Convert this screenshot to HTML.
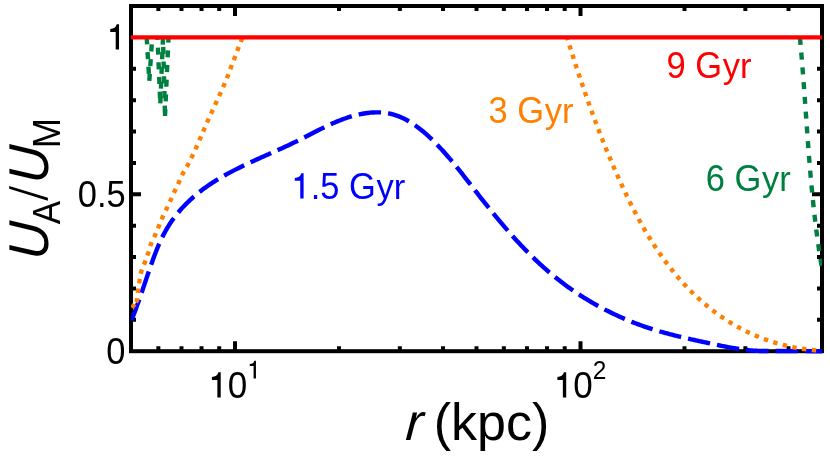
<!DOCTYPE html>
<html><head><meta charset="utf-8">
<style>
html,body{margin:0;padding:0;background:#fff;}
svg{display:block;will-change:transform;}
text{font-family:"Liberation Sans",sans-serif;}
</style></head>
<body>
<svg width="830" height="458" viewBox="0 0 830 458">
<rect width="830" height="458" fill="#fff"/>
<g stroke="#000" stroke-width="4" fill="none" stroke-linecap="butt">
<path d="M158.36,351.2 v-5 M158.36,6.0 v5"/>
<path d="M181.49,351.2 v-5 M181.49,6.0 v5"/>
<path d="M201.52,351.2 v-5 M201.52,6.0 v5"/>
<path d="M219.20,351.2 v-5 M219.20,6.0 v5"/>
<path d="M339.01,351.2 v-5 M339.01,6.0 v5"/>
<path d="M399.85,351.2 v-5 M399.85,6.0 v5"/>
<path d="M443.02,351.2 v-5 M443.02,6.0 v5"/>
<path d="M476.50,351.2 v-5 M476.50,6.0 v5"/>
<path d="M503.86,351.2 v-5 M503.86,6.0 v5"/>
<path d="M526.99,351.2 v-5 M526.99,6.0 v5"/>
<path d="M547.02,351.2 v-5 M547.02,6.0 v5"/>
<path d="M564.70,351.2 v-5 M564.70,6.0 v5"/>
<path d="M684.51,351.2 v-5 M684.51,6.0 v5"/>
<path d="M745.35,351.2 v-5 M745.35,6.0 v5"/>
<path d="M788.52,351.2 v-5 M788.52,6.0 v5"/>
<path d="M235.01,351.2 v-10 M235.01,6.0 v10"/>
<path d="M580.51,351.2 v-10 M580.51,6.0 v10"/>
<path d="M131.0,319.82 h5 M822.0,319.82 h-5"/>
<path d="M131.0,288.44 h5 M822.0,288.44 h-5"/>
<path d="M131.0,257.05 h5 M822.0,257.05 h-5"/>
<path d="M131.0,225.67 h5 M822.0,225.67 h-5"/>
<path d="M131.0,194.29 h10 M822.0,194.29 h-10"/>
<path d="M131.0,162.91 h5 M822.0,162.91 h-5"/>
<path d="M131.0,131.53 h5 M822.0,131.53 h-5"/>
<path d="M131.0,100.15 h5 M822.0,100.15 h-5"/>
<path d="M131.0,68.76 h5 M822.0,68.76 h-5"/>
</g>
<rect x="131.0" y="6.0" width="691.0" height="345.2" fill="none" stroke="#000" stroke-width="4" stroke-linejoin="miter"/>
<defs><clipPath id="ax"><rect x="131.0" y="0" width="691.0" height="458"/></clipPath></defs>
<g clip-path="url(#ax)" fill="none" stroke-width="4.4" stroke-linejoin="round">
<path id="blue" stroke="#0000ff" stroke-dasharray="22.5 7.1" d="M131.35,320.51 L131.96,319.00 L132.57,317.48 L133.16,315.97 L133.76,314.45 L134.34,312.93 L134.92,311.41 L135.49,309.89 L136.06,308.36 L136.62,306.84 L137.18,305.31 L137.73,303.78 L138.28,302.25 L138.82,300.71 L139.37,299.18 L139.90,297.65 L140.44,296.11 L140.97,294.57 L141.50,293.03 L142.03,291.49 L142.55,289.96 L143.07,288.41 L143.60,286.87 L144.12,285.33 L144.64,283.79 L145.16,282.25 L145.68,280.70 L146.20,279.16 L146.73,277.61 L147.25,276.07 L147.77,274.53 L148.30,272.98 L148.83,271.44 L149.36,269.89 L149.89,268.35 L150.43,266.81 L150.96,265.26 L151.51,263.72 L152.05,262.18 L152.61,260.64 L153.16,259.10 L153.73,257.56 L154.30,256.03 L154.87,254.50 L155.46,252.97 L156.05,251.45 L156.66,249.93 L157.27,248.42 L157.90,246.91 L158.53,245.40 L159.18,243.90 L159.84,242.41 L160.52,240.93 L161.20,239.45 L161.91,237.98 L162.63,236.52 L163.36,235.07 L164.11,233.63 L164.88,232.19 L165.67,230.77 L166.47,229.35 L167.29,227.95 L168.14,226.56 L169.00,225.18 L169.89,223.81 L170.79,222.45 L171.71,221.11 L172.65,219.77 L173.61,218.45 L174.59,217.14 L175.58,215.85 L176.60,214.56 L177.62,213.29 L178.67,212.03 L179.73,210.79 L180.80,209.56 L181.89,208.34 L183.00,207.13 L184.12,205.94 L185.25,204.76 L186.40,203.60 L187.56,202.45 L188.73,201.32 L189.91,200.20 L191.10,199.09 L192.31,198.00 L193.53,196.92 L194.76,195.86 L195.99,194.81 L197.24,193.78 L198.50,192.76 L199.77,191.76 L201.04,190.77 L202.33,189.79 L203.62,188.83 L204.93,187.87 L206.24,186.94 L207.56,186.01 L208.89,185.10 L210.23,184.19 L211.57,183.30 L212.92,182.42 L214.28,181.55 L215.65,180.70 L217.02,179.85 L218.41,179.01 L219.79,178.18 L221.19,177.36 L222.59,176.55 L224.00,175.75 L225.41,174.96 L226.83,174.17 L228.25,173.40 L229.68,172.63 L231.11,171.87 L232.55,171.11 L234.00,170.37 L235.45,169.63 L236.90,168.89 L238.36,168.17 L239.82,167.44 L241.28,166.73 L242.75,166.01 L244.22,165.31 L245.70,164.61 L247.18,163.91 L248.66,163.21 L250.14,162.52 L251.63,161.84 L253.12,161.15 L254.61,160.47 L256.10,159.79 L257.60,159.12 L259.09,158.44 L260.59,157.77 L262.09,157.10 L263.59,156.43 L265.09,155.76 L266.59,155.10 L268.09,154.43 L269.59,153.76 L271.09,153.09 L272.59,152.42 L274.09,151.75 L275.59,151.08 L277.09,150.41 L278.59,149.74 L280.09,149.06 L281.58,148.39 L283.07,147.71 L284.57,147.02 L286.06,146.34 L287.54,145.65 L289.03,144.95 L290.51,144.26 L291.99,143.55 L293.47,142.85 L294.94,142.14 L296.42,141.42 L297.88,140.70 L299.35,139.97 L300.81,139.24 L302.26,138.50 L303.72,137.76 L305.17,137.02 L306.62,136.28 L308.07,135.53 L309.52,134.78 L310.97,134.03 L312.41,133.29 L313.86,132.54 L315.31,131.80 L316.76,131.06 L318.20,130.32 L319.66,129.59 L321.11,128.86 L322.56,128.14 L324.02,127.42 L325.48,126.72 L326.95,126.02 L328.41,125.32 L329.89,124.64 L331.36,123.97 L332.84,123.31 L334.33,122.66 L335.82,122.02 L337.32,121.40 L338.83,120.79 L340.34,120.19 L341.86,119.61 L343.39,119.04 L344.92,118.49 L346.47,117.96 L348.02,117.45 L349.58,116.95 L351.15,116.48 L352.73,116.02 L354.33,115.59 L355.93,115.18 L357.53,114.79 L359.15,114.42 L360.77,114.09 L362.40,113.77 L364.03,113.49 L365.66,113.23 L367.30,113.01 L368.93,112.81 L370.57,112.65 L372.20,112.52 L373.84,112.43 L375.46,112.37 L377.09,112.35 L378.71,112.36 L380.32,112.42 L381.93,112.51 L383.52,112.65 L385.11,112.83 L386.68,113.05 L388.25,113.32 L389.80,113.63 L391.34,113.99 L392.87,114.39 L394.38,114.83 L395.89,115.31 L397.38,115.83 L398.85,116.39 L400.32,116.99 L401.78,117.62 L403.22,118.29 L404.65,119.00 L406.07,119.73 L407.48,120.50 L408.87,121.30 L410.26,122.13 L411.63,122.98 L412.99,123.86 L414.34,124.77 L415.68,125.71 L417.01,126.67 L418.32,127.65 L419.63,128.65 L420.92,129.67 L422.21,130.72 L423.48,131.78 L424.74,132.85 L425.99,133.95 L427.23,135.06 L428.46,136.18 L429.68,137.31 L430.89,138.46 L432.09,139.62 L433.27,140.78 L434.45,141.96 L435.62,143.14 L436.78,144.33 L437.92,145.52 L439.06,146.71 L440.19,147.92 L441.30,149.12 L442.41,150.33 L443.51,151.55 L444.61,152.77 L445.69,153.99 L446.77,155.22 L447.84,156.45 L448.90,157.68 L449.96,158.92 L451.01,160.16 L452.05,161.40 L453.09,162.65 L454.13,163.90 L455.15,165.15 L456.18,166.41 L457.20,167.67 L458.21,168.93 L459.22,170.19 L460.23,171.46 L461.24,172.73 L462.24,173.99 L463.24,175.27 L464.24,176.54 L465.24,177.81 L466.23,179.09 L467.23,180.36 L468.22,181.64 L469.21,182.92 L470.21,184.20 L471.20,185.48 L472.19,186.76 L473.19,188.04 L474.18,189.33 L475.18,190.61 L476.18,191.89 L477.18,193.17 L478.18,194.45 L479.18,195.74 L480.19,197.02 L481.20,198.30 L482.20,199.58 L483.22,200.86 L484.23,202.14 L485.24,203.42 L486.26,204.70 L487.28,205.97 L488.30,207.25 L489.32,208.52 L490.35,209.80 L491.38,211.07 L492.41,212.34 L493.44,213.61 L494.48,214.87 L495.52,216.14 L496.56,217.40 L497.60,218.66 L498.65,219.92 L499.70,221.18 L500.75,222.43 L501.81,223.68 L502.87,224.93 L503.93,226.18 L505.00,227.42 L506.07,228.66 L507.14,229.90 L508.21,231.13 L509.29,232.36 L510.37,233.59 L511.46,234.82 L512.55,236.04 L513.64,237.26 L514.74,238.47 L515.84,239.68 L516.95,240.89 L518.05,242.09 L519.17,243.28 L520.28,244.48 L521.40,245.67 L522.53,246.85 L523.66,248.03 L524.79,249.21 L525.93,250.38 L527.07,251.55 L528.22,252.71 L529.37,253.86 L530.53,255.01 L531.69,256.16 L532.85,257.30 L534.02,258.43 L535.20,259.56 L536.38,260.69 L537.56,261.80 L538.75,262.91 L539.95,264.02 L541.15,265.12 L542.35,266.21 L543.56,267.30 L544.78,268.38 L546.00,269.46 L547.23,270.52 L548.46,271.58 L549.70,272.64 L550.94,273.68 L552.19,274.72 L553.45,275.76 L554.71,276.78 L555.97,277.80 L557.24,278.81 L558.52,279.82 L559.80,280.82 L561.09,281.81 L562.39,282.79 L563.68,283.76 L564.99,284.73 L566.30,285.69 L567.61,286.65 L568.93,287.60 L570.26,288.53 L571.59,289.47 L572.92,290.39 L574.26,291.31 L575.61,292.22 L576.96,293.12 L578.31,294.02 L579.67,294.90 L581.04,295.79 L582.41,296.66 L583.78,297.52 L585.16,298.38 L586.55,299.23 L587.93,300.07 L589.33,300.91 L590.73,301.74 L592.13,302.56 L593.54,303.37 L594.95,304.17 L596.36,304.97 L597.78,305.76 L599.21,306.54 L600.64,307.32 L602.07,308.08 L603.51,308.84 L604.95,309.59 L606.40,310.34 L607.85,311.07 L609.30,311.80 L610.76,312.52 L612.22,313.23 L613.69,313.93 L615.16,314.63 L616.63,315.32 L618.11,316.00 L619.59,316.67 L621.08,317.33 L622.57,317.99 L624.06,318.64 L625.55,319.28 L627.06,319.91 L628.56,320.53 L630.07,321.15 L631.58,321.76 L633.09,322.36 L634.61,322.95 L636.13,323.53 L637.66,324.11 L639.18,324.67 L640.72,325.23 L642.25,325.78 L643.79,326.33 L645.33,326.86 L646.87,327.39 L648.42,327.90 L649.97,328.41 L651.52,328.91 L653.08,329.40 L654.64,329.89 L656.20,330.36 L657.77,330.83 L659.33,331.29 L660.90,331.75 L662.48,332.19 L664.05,332.63 L665.63,333.07 L667.21,333.49 L668.79,333.92 L670.37,334.33 L671.95,334.74 L673.54,335.14 L675.13,335.54 L676.71,335.94 L678.30,336.32 L679.90,336.71 L681.49,337.09 L683.08,337.46 L684.67,337.84 L686.27,338.21 L687.86,338.57 L689.46,338.93 L691.06,339.29 L692.65,339.65 L694.25,340.00 L695.85,340.35 L697.44,340.70 L699.04,341.05 L700.64,341.40 L702.23,341.74 L703.83,342.09 L705.42,342.43 L707.02,342.77 L708.61,343.12 L710.21,343.46 L711.80,343.80 L713.39,344.14 L714.98,344.48 L716.57,344.82 L718.16,345.16 L719.75,345.49 L721.34,345.82 L722.93,346.14 L724.52,346.46 L726.11,346.77 L727.71,347.08 L729.30,347.38 L730.89,347.67 L732.49,347.96 L734.09,348.23 L735.69,348.50 L737.29,348.75 L738.89,349.00 L740.49,349.23 L742.10,349.46 L743.71,349.67 L745.32,349.86 L746.94,350.04 L748.56,350.21 L750.18,350.36 L751.80,350.50 L753.43,350.62 L755.06,350.72 L756.70,350.81 L758.34,350.88 L759.98,350.93 L822,351.2"/>
<path stroke="#ff8000" d="M132,307.9 L134.44,304.24"/>
<path id="orangeL" stroke="#ff8000" stroke-dasharray="4.4 5.32" d="M135.78,302.23 L136.71,301.05 L137.13,299.78 L137.34,298.42 L137.49,297.00 L137.61,295.54 L137.71,294.06 L137.81,292.58 L137.95,291.12 L138.13,289.69 L138.32,288.26 L138.53,286.83 L138.75,285.41 L138.97,283.98 L139.20,282.56 L139.44,281.14 L139.68,279.72 L139.92,278.29 L140.16,276.86 L140.42,275.44 L140.70,274.02 L141.00,272.62 L141.34,271.24 L141.76,269.87 L142.25,268.52 L142.80,267.19 L143.37,265.86 L143.95,264.52 L144.51,263.19 L145.03,261.84 L145.54,260.49 L146.04,259.14 L146.53,257.79 L147.02,256.43 L147.50,255.07 L147.96,253.71 L148.41,252.34 L148.82,250.95 L149.22,249.56 L149.62,248.18 L150.03,246.79 L150.47,245.42 L150.95,244.07 L151.49,242.74 L152.08,241.43 L152.71,240.14 L153.36,238.84 L154.00,237.55 L154.63,236.25 L155.22,234.93 L155.78,233.61 L156.33,232.27 L156.87,230.94 L157.41,229.60 L157.94,228.26 L158.49,226.92 L159.03,225.59 L159.57,224.25 L160.11,222.92 L160.65,221.58 L161.20,220.25 L161.77,218.92 L162.34,217.60 L162.94,216.29 L163.56,214.99 L164.20,213.70 L164.84,212.41 L165.48,211.11 L166.11,209.82 L166.73,208.52 L167.35,207.22 L167.96,205.91 L168.57,204.61 L169.18,203.30 L169.78,201.99 L170.39,200.68 L170.99,199.37 L171.58,198.06 L172.16,196.74 L172.75,195.42 L173.34,194.11 L173.93,192.79 L174.52,191.48 L175.13,190.18 L175.75,188.87 L176.38,187.57 L177.00,186.28 L177.63,184.98 L178.25,183.68 L178.87,182.38 L179.46,181.06 L180.04,179.74 L180.62,178.42 L181.19,177.09 L181.78,175.77 L182.38,174.47 L183.01,173.18 L183.68,171.91 L184.40,170.66 L185.15,169.42 L185.91,168.19 L186.66,166.96 L187.39,165.72 L188.08,164.45 L188.74,163.18 L189.39,161.90 L190.04,160.62 L190.68,159.33 L191.32,158.04 L191.94,156.75 L192.56,155.45 L193.18,154.15 L193.78,152.84 L194.39,151.54 L194.99,150.23 L195.58,148.91 L196.17,147.60 L196.76,146.28 L197.34,144.96 L197.92,143.64 L198.50,142.32 L199.07,140.99 L199.64,139.67 L200.22,138.34 L200.79,137.01 L201.36,135.69 L201.93,134.36 L202.50,133.03 L203.07,131.71 L203.64,130.38 L204.21,129.05 L204.78,127.73 L205.36,126.40 L205.93,125.08 L206.51,123.76 L207.10,122.44 L207.68,121.12 L208.27,119.81 L208.86,118.49 L209.46,117.18 L210.06,115.87 L210.65,114.56 L211.25,113.25 L211.85,111.94 L212.45,110.63 L213.05,109.32 L213.65,108.01 L214.26,106.70 L214.86,105.39 L215.46,104.07 L216.06,102.76 L216.66,101.45 L217.25,100.14 L217.85,98.83 L218.45,97.52 L219.04,96.20 L219.63,94.89 L220.22,93.58 L220.81,92.26 L221.40,90.94 L221.98,89.63 L222.56,88.31 L223.14,86.99 L223.71,85.67 L224.28,84.34 L224.85,83.02 L225.41,81.69 L225.98,80.36 L226.53,79.03 L227.08,77.70 L227.62,76.37 L228.15,75.03 L228.67,73.68 L229.17,72.33 L229.66,70.97 L230.14,69.62 L230.63,68.26 L231.12,66.90 L231.62,65.55 L232.13,64.20 L232.65,62.86 L233.17,61.52 L233.69,60.17 L234.22,58.83 L234.74,57.49 L235.26,56.14 L235.78,54.80 L236.29,53.45 L236.80,52.10 L237.31,50.76 L237.83,49.41 L238.35,48.07 L238.87,46.72 L239.39,45.38 L239.92,44.04 L240.45,42.70 L240.99,41.36 L241.52,40.02 L242.06,38.69 L242.60,37.35"/>
<path id="orangeR" stroke="#ff8000" stroke-dasharray="4.4 5.455" stroke-dashoffset="1.5" d="M566.97,37.31 L567.40,38.69 L567.83,40.08 L568.26,41.47 L568.69,42.86 L569.13,44.25 L569.56,45.63 L570.00,47.02 L570.43,48.40 L570.87,49.78 L571.31,51.17 L571.75,52.55 L572.18,53.93 L572.62,55.31 L573.07,56.69 L573.51,58.07 L573.95,59.44 L574.39,60.82 L574.84,62.20 L575.28,63.57 L575.73,64.95 L576.18,66.32 L576.63,67.70 L577.08,69.07 L577.53,70.44 L577.98,71.81 L578.43,73.18 L578.89,74.55 L579.34,75.92 L579.80,77.29 L580.26,78.65 L580.72,80.02 L581.18,81.39 L581.64,82.75 L582.10,84.12 L582.56,85.48 L583.03,86.84 L583.50,88.21 L583.96,89.57 L584.43,90.93 L584.90,92.29 L585.37,93.65 L585.85,95.01 L586.32,96.36 L586.80,97.72 L587.28,99.08 L587.75,100.43 L588.23,101.79 L588.72,103.14 L589.20,104.50 L589.68,105.85 L590.17,107.21 L590.66,108.56 L591.15,109.91 L591.64,111.26 L592.13,112.61 L592.62,113.96 L593.12,115.31 L593.62,116.66 L594.12,118.00 L594.62,119.35 L595.12,120.70 L595.62,122.04 L596.13,123.39 L596.64,124.73 L597.15,126.07 L597.66,127.42 L598.17,128.76 L598.69,130.10 L599.20,131.44 L599.72,132.78 L600.24,134.12 L600.76,135.46 L601.29,136.80 L601.81,138.14 L602.34,139.48 L602.87,140.81 L603.40,142.15 L603.94,143.49 L604.47,144.82 L605.01,146.16 L605.55,147.49 L606.09,148.82 L606.63,150.16 L607.18,151.49 L607.73,152.82 L608.28,154.15 L608.83,155.48 L609.39,156.81 L609.94,158.14 L610.50,159.47 L611.06,160.80 L611.63,162.13 L612.19,163.46 L612.76,164.78 L613.33,166.11 L613.90,167.44 L614.48,168.76 L615.05,170.09 L615.63,171.41 L616.21,172.73 L616.80,174.06 L617.38,175.38 L617.97,176.70 L618.56,178.02 L619.16,179.34 L619.75,180.66 L620.35,181.98 L620.95,183.30 L621.56,184.62 L622.17,185.94 L622.77,187.26 L623.39,188.57 L624.00,189.88 L624.62,191.20 L625.24,192.51 L625.87,193.82 L626.49,195.13 L627.12,196.44 L627.76,197.74 L628.39,199.05 L629.03,200.35 L629.67,201.66 L630.32,202.96 L630.97,204.26 L631.62,205.55 L632.28,206.85 L632.94,208.14 L633.60,209.43 L634.27,210.72 L634.94,212.01 L635.61,213.30 L636.29,214.58 L636.97,215.86 L637.66,217.14 L638.35,218.42 L639.04,219.69 L639.73,220.96 L640.44,222.23 L641.14,223.50 L641.85,224.76 L642.56,226.03 L643.28,227.28 L644.00,228.54 L644.73,229.79 L645.46,231.04 L646.19,232.29 L646.93,233.54 L647.67,234.78 L648.42,236.02 L649.17,237.25 L649.93,238.48 L650.69,239.71 L651.45,240.94 L652.22,242.16 L653.00,243.38 L653.78,244.60 L654.56,245.81 L655.35,247.01 L656.15,248.22 L656.94,249.42 L657.75,250.62 L658.56,251.81 L659.37,253.00 L660.19,254.18 L661.02,255.37 L661.85,256.54 L662.68,257.72 L663.52,258.88 L664.37,260.05 L665.22,261.21 L666.08,262.36 L666.94,263.52 L667.81,264.66 L668.68,265.81 L669.56,266.94 L670.44,268.08 L671.33,269.21 L672.23,270.33 L673.13,271.45 L674.04,272.56 L674.95,273.67 L675.87,274.78 L676.80,275.88 L677.73,276.97 L678.66,278.06 L679.61,279.14 L680.56,280.22 L681.51,281.29 L682.48,282.36 L683.44,283.43 L684.42,284.48 L685.40,285.53 L686.39,286.58 L687.38,287.62 L688.38,288.65 L689.39,289.68 L690.40,290.70 L691.42,291.72 L692.45,292.73 L693.48,293.74 L694.52,294.73 L695.56,295.73 L696.61,296.71 L697.67,297.69 L698.73,298.66 L699.80,299.63 L700.88,300.59 L701.96,301.54 L703.05,302.48 L704.14,303.42 L705.24,304.35 L706.34,305.28 L707.45,306.20 L708.57,307.10 L709.69,308.01 L710.82,308.90 L711.96,309.79 L713.10,310.67 L714.24,311.54 L715.40,312.40 L716.55,313.26 L717.72,314.11 L718.89,314.95 L720.06,315.78 L721.24,316.61 L722.43,317.42 L723.62,318.23 L724.82,319.03 L726.02,319.82 L727.23,320.60 L728.44,321.37 L729.66,322.14 L730.88,322.89 L732.11,323.64 L733.35,324.38 L734.59,325.11 L735.84,325.82 L737.09,326.54 L738.34,327.24 L739.61,327.93 L740.87,328.61 L742.15,329.28 L743.42,329.94 L744.71,330.60 L745.99,331.24 L747.29,331.87 L748.59,332.50 L749.89,333.11 L751.20,333.71 L752.51,334.31 L753.83,334.89 L755.15,335.46 L756.48,336.03 L757.81,336.58 L759.14,337.12 L760.49,337.66 L761.83,338.18 L763.18,338.69 L764.53,339.19 L765.89,339.68 L767.25,340.16 L768.62,340.64 L769.99,341.10 L771.36,341.55 L772.73,341.99 L774.12,342.42 L775.50,342.83 L776.89,343.24 L778.28,343.64 L779.67,344.03 L781.07,344.41 L782.47,344.77 L783.87,345.13 L785.28,345.47 L786.69,345.81 L788.10,346.13 L789.51,346.45 L790.93,346.75 L792.35,347.04 L793.77,347.32 L795.20,347.59 L796.63,347.85 L798.06,348.10 L799.49,348.34 L800.92,348.57 L802.36,348.79 L803.80,348.99 L805.24,349.19 L806.68,349.37 L808.12,349.54 L809.57,349.71 L811.02,349.86 L812.46,350.00 L813.91,350.13 L815.37,350.24 L816.82,350.35 L818.27,350.45 L819.73,350.53 L821.18,350.60"/>
<path stroke="#008040" stroke-dasharray="7.1 7.6" stroke-dashoffset="0.00" d="M146.7,37.35 L149.3,81.0"/>
<path stroke="#008040" stroke-dasharray="7.1 7.6" stroke-dashoffset="7.60" d="M152.2,37.35 L149.3,81.0"/>
<path stroke="#008040" stroke-dasharray="7.1 7.6" stroke-dashoffset="4.50" d="M157.5,37.35 L160.3,104.0"/>
<path stroke="#008040" stroke-dasharray="7.1 7.6" stroke-dashoffset="14.60" d="M163.0,37.35 L160.3,104.0"/>
<path stroke="#008040" stroke-dasharray="7.1 7.6" stroke-dashoffset="5.20" d="M163.0,37.35 L165.0,116.0"/>
<path stroke="#008040" stroke-dasharray="7.1 7.6" stroke-dashoffset="1.75" d="M168.5,37.35 L165.0,116.0"/>
<path id="green3" stroke="#008040" stroke-dasharray="7.1 7.7" stroke-dashoffset="-0.6" d="M799.88,37.22 L800.09,39.55 L800.31,41.88 L800.52,44.22 L800.73,46.55 L800.93,48.88 L801.14,51.21 L801.34,53.55 L801.54,55.88 L801.73,58.22 L801.92,60.56 L802.11,62.89 L802.30,65.23 L802.49,67.57 L802.67,69.90 L802.85,72.24 L803.04,74.58 L803.21,76.92 L803.39,79.26 L803.57,81.60 L803.74,83.94 L803.92,86.28 L804.09,88.62 L804.26,90.96 L804.43,93.30 L804.60,95.64 L804.77,97.98 L804.93,100.32 L805.10,102.67 L805.27,105.01 L805.44,107.35 L805.60,109.69 L805.77,112.04 L805.93,114.38 L806.10,116.72 L806.27,119.07 L806.43,121.41 L806.60,123.75 L806.77,126.10 L806.94,128.44 L807.11,130.78 L807.27,133.13 L807.45,135.47 L807.62,137.81 L807.79,140.16 L807.96,142.50 L808.14,144.84 L808.32,147.19 L808.49,149.53 L808.67,151.87 L808.86,154.21 L809.04,156.56 L809.22,158.90 L809.41,161.24 L809.60,163.58 L809.79,165.92 L809.99,168.27 L810.18,170.61 L810.38,172.95 L810.58,175.29 L810.79,177.63 L810.99,179.97 L811.21,182.31 L811.42,184.65 L811.63,186.99 L811.85,189.33 L812.08,191.66 L812.30,194.00 L812.53,196.34 L812.77,198.68 L813.01,201.01 L813.25,203.35 L813.49,205.68 L813.74,208.02 L814.00,210.35 L814.25,212.69 L814.52,215.02 L814.78,217.35 L815.06,219.69 L815.33,222.02 L815.61,224.35 L815.90,226.68 L816.19,229.01 L816.49,231.34 L816.79,233.67 L817.09,235.99 L817.41,238.32 L817.72,240.65 L818.05,242.97 L818.38,245.30 L818.71,247.62 L819.05,249.94 L819.40,252.27 L819.75,254.59 L820.11,256.91 L820.48,259.23 L820.85,261.55 L821.23,263.86 L821.61,266.18 L822.00,268.50"/>
<path id="red" stroke="#ff0000" stroke-width="4.3" d="M131.0,37.35 H822.0"/>
</g>
<path d="M119.04,24.30 L119.04,49.60 L115.69,49.60 L115.69,31.90 L110.24,31.90 L110.24,29.00 C113.74,28.90 115.94,27.30 116.74,24.30 Z" fill="#000"/>
<text transform="translate(125.70,207.40) scale(0.985,1.07)" font-size="35px" fill="#000" text-anchor="end">0.5</text>
<text transform="translate(125.50,363.80) scale(0.985,1.07)" font-size="35px" fill="#000" text-anchor="end">0</text>
<path d="M220.71,372.30 L220.71,397.60 L217.36,397.60 L217.36,379.90 L211.91,379.90 L211.91,377.00 C215.41,376.90 217.61,375.30 218.41,372.30 Z" fill="#000"/>
<text transform="translate(227.87,397.60) scale(1,1.07)" font-size="35px" fill="#000" text-anchor="start">0</text>
<path d="M255.94,360.69 L255.94,378.40 L253.59,378.40 L253.59,366.01 L249.78,366.01 L249.78,363.98 C252.23,363.91 253.77,362.79 254.33,360.69 Z" fill="#000"/>
<path d="M566.21,372.30 L566.21,397.60 L562.86,397.60 L562.86,379.90 L557.41,379.90 L557.41,377.00 C560.91,376.90 563.11,375.30 563.91,372.30 Z" fill="#000"/>
<text transform="translate(573.37,397.60) scale(1,1.07)" font-size="35px" fill="#000" text-anchor="start">0</text>
<text transform="translate(592.83,378.90) scale(1,1.07)" font-size="24.5px" fill="#000" text-anchor="start">2</text>
<text transform="translate(666.50,77.55) scale(0.985,1.07)" font-size="35px" fill="#ff0000" text-anchor="start">9 G</text>
<text transform="translate(722.77,77.55) scale(0.985,1.02)" font-size="35px" fill="#ff0000" text-anchor="start">yr</text>
<text transform="translate(488.60,122.60) scale(0.985,1.07)" font-size="35px" fill="#ff8000" text-anchor="start">3 G</text>
<text transform="translate(544.87,122.60) scale(0.985,1.02)" font-size="35px" fill="#ff8000" text-anchor="start">yr</text>
<text transform="translate(705.80,191.20) scale(0.985,1.07)" font-size="35px" fill="#008040" text-anchor="start">6 G</text>
<text transform="translate(762.07,191.20) scale(0.985,1.02)" font-size="35px" fill="#008040" text-anchor="start">yr</text>
<path d="M303.60,173.20 L303.60,198.50 L300.25,198.50 L300.25,180.80 L294.80,180.80 L294.80,177.90 C298.30,177.80 300.50,176.20 301.30,173.20 Z" fill="#0000ff"/>
<text transform="translate(310.76,198.50) scale(0.985,1.07)" font-size="35px" fill="#0000ff" text-anchor="start">.5 G</text>
<text transform="translate(376.62,198.50) scale(0.985,1.02)" font-size="35px" fill="#0000ff" text-anchor="start">yr</text>
<text transform="translate(405,439.6) skewX(-3.5)" font-size="52px" font-style="italic">r</text>
<text x="433.75" y="439.6" font-size="52px">(kpc)</text>
<text transform="translate(47.8,260.2) rotate(-90) scale(1.0,1.08) skewX(-3.5)" font-size="52px" font-style="italic">U</text>
<text transform="translate(60.3,224.2) rotate(-90) scale(0.96,1.08)" font-size="36.4px">A</text>
<polygon points="9.2,185.9 9.2,188.7 47.9,200.7 47.9,197.8" fill="#000"/>
<text transform="translate(47.8,184.0) rotate(-90) scale(1.0,1.08) skewX(-3.5)" font-size="52px" font-style="italic">U</text>
<text transform="translate(60.3,148.3) rotate(-90) scale(1.0,1.08)" font-size="36.4px">M</text>
</svg>
</body></html>
